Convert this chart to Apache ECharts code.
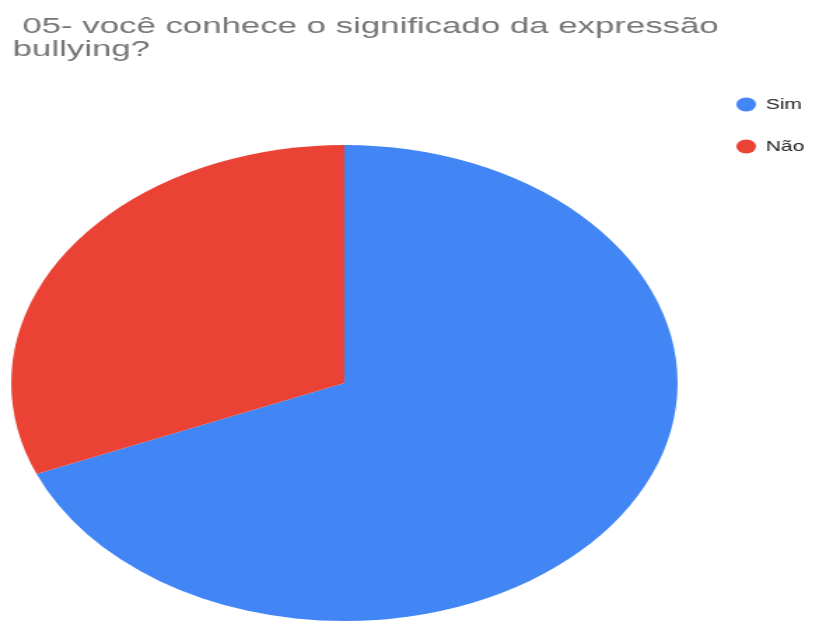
<!DOCTYPE html>
<html>
<head>
<meta charset="utf-8">
<script src="https://cdn.jsdelivr.net/npm/echarts@6/dist/echarts.min.js"></script>
<style>
  html, body { margin: 0; padding: 0; background: #fff; overflow: hidden; }
  #wrap { width: 828px; height: 621px; overflow: hidden; position: relative; }
  /* chart is drawn narrow and widened horizontally */
  #chart { width: 591px; height: 621px; transform: scaleX(1.4); transform-origin: 0 0; }
</style>
</head>
<body>
<div id="wrap"><div id="chart"></div></div>
<script>
const titleText = ' 05- você conhece o significado da expressão\nbullying?';
const categories = ['Sim', 'Não'];
const counts = [22, 10];
const colors = ['#4285F4', '#EA4335'];

const chart = echarts.init(document.getElementById('chart'), null, { renderer: 'canvas' });
chart.setOption({
  animation: false,
  color: colors,
  graphic: [{
    type: 'text',
    left: 9,
    top: 15,
    scaleX: 1.13,
    style: {
      text: titleText,
      fontFamily: 'Liberation Sans, Arial, sans-serif',
      fontSize: 22,
      lineHeight: 23,
      fill: '#757575'
    }
  }],
  legend: {
    orient: 'vertical',
    left: 521,
    top: 92,
    itemGap: 27,
    icon: 'path://M0 50 A50 50 0 1 1 100 50 A50 50 0 1 1 0 50 Z',
    itemWidth: 18,
    itemHeight: 14,
    textStyle: {
      fontFamily: 'Liberation Sans, Arial, sans-serif',
      fontSize: 15,
      color: '#222'
    },
    data: categories
  },
  series: [{
    type: 'pie',
    center: [246, 383],
    radius: 238,
    startAngle: 90,
    clockwise: true,
    label: { show: false },
    labelLine: { show: false },
    itemStyle: { borderWidth: 0 },
    data: categories.map((c, i) => ({ name: c, value: counts[i] }))
  }]
});
</script>
</body>
</html>
